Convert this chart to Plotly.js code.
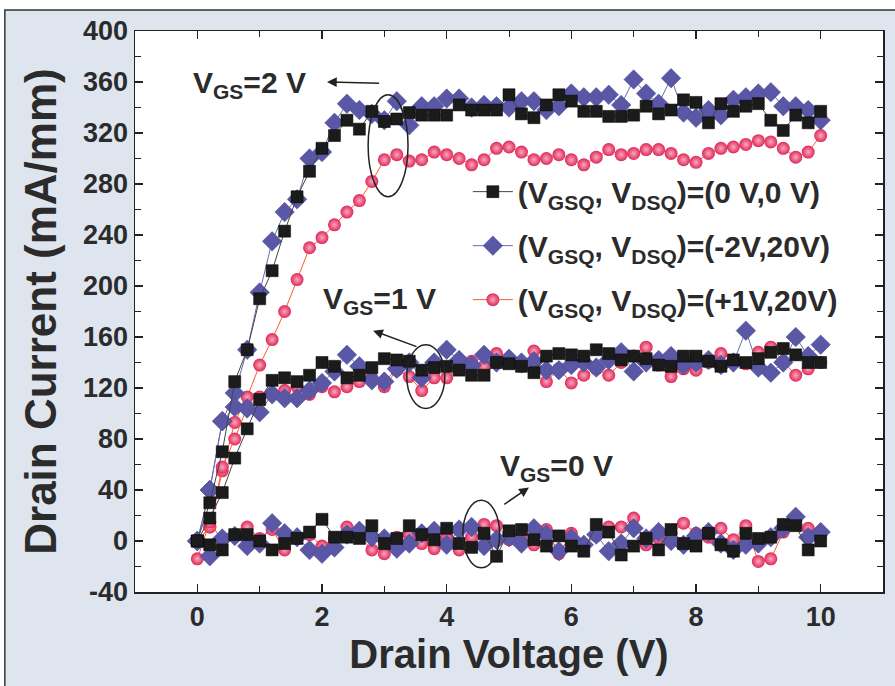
<!DOCTYPE html>
<html><head><meta charset="utf-8">
<script src="https://cdn.plot.ly/plotly-3.0.1.min.js"></script>
<style>html,body{margin:0;padding:0;background:#fff}#chart{width:895px;height:686px}</style>
</head><body><div id="chart"></div>
<script>
// Drain voltage (V)
const drainV = [0,0.2,0.4,0.6,0.8,1,1.2,1.4,1.6,1.8,2,2.2,2.4,2.6,2.8,3,3.2,3.4,3.6,3.8,4,4.2,4.4,4.6,4.8,5,5.2,5.4,5.6,5.8,6,6.2,6.4,6.6,6.8,7,7.2,7.4,7.6,7.8,8,8.2,8.4,8.6,8.8,9,9.2,9.4,9.6,9.8,10];

// (VGSQ,VDSQ)=(0 V,0 V)  black squares
const black_vgs2 = [0,30,70,125,150,190,212,243,270,290,308,318,330,323,337,329,331,336,334,334,334,342,338,338,338,350,335,332,342,350,345,337,337,333,333,334,341,335,338,346,344,328,343,337,341,343,330,322,334,328,337];
const black_vgs1 = [0,18,38,65,88,111,126,128,125,130,140,137,128,130,136,143,142,141,134,136,137,134,130,130,140,139,137,132,145,147,146,145,150,147,142,145,143,138,137,145,145,141,137,142,140,143,148,151,146,140,140];
const black_vgs0 = [0,-3,-7,5,5,0,-7,-2,2,7,17,3,3,2,12,-2,2,12,5,1,10,-2,-5,6,-12,8,9,1,-4,4,-4,-8,13,7,-11,-4,2,-7,9,-2,-4,6,-3,-8,6,2,3,13,12,-7,0];

// (VGSQ,VDSQ)=(-2V,20V)  blue diamonds
const blue_vgs2 = [0,40,94,116,150,195,235,258,268,300,305,328,343,338,335,330,345,326,341,341,347,347,340,342,341,340,345,345,338,341,351,348,348,350,342,362,351,343,363,336,332,338,334,346,348,351,352,341,341,338,330];
const blue_vgs1 = [0,40,94,105,104,101,115,112,112,118,124,133,146,137,126,125,135,140,128,140,150,142,138,146,140,143,140,141,134,134,138,140,136,142,148,133,140,142,145,138,140,142,138,140,165,136,132,140,160,145,154];
const blue_vgs0 = [0,-12,2,4,-4,-2,14,6,3,-7,-10,-5,5,8,3,2,-6,-2,6,8,-3,9,11,-4,1,3,-2,10,5,-8,2,-3,5,-8,-2,10,2,7,0,-3,4,7,-2,-7,-3,-2,3,10,19,3,7];

// (VGSQ,VDSQ)=(+1V,20V)  red circles
const red_vgs2 = [0,11,55,93,113,138,158,180,205,230,238,248,258,267,282,299,303,298,299,305,303,300,295,299,308,309,305,299,300,303,299,295,301,307,303,304,307,307,304,299,297,304,308,309,311,314,313,308,301,305,318];
const red_vgs1 = [0,11,58,80,105,113,116,118,121,115,121,117,121,125,128,121,134,129,118,128,128,135,141,137,147,140,137,149,125,135,124,130,135,130,140,145,152,138,129,135,134,140,147,142,139,148,152,141,130,135,140];
const red_vgs0 = [-14,15,0,4,11,2,9,-7,3,5,-4,2,11,4,-7,-10,3,5,-2,-6,2,-7,3,13,12,1,1,-3,9,-10,6,-3,4,11,11,18,-3,2,6,14,6,3,10,1,12,-16,-14,7,16,10,5];

const seriesNames = [
  '(V<sub>GSQ</sub>, V<sub>DSQ</sub>)=(0 V,0 V)',
  '(V<sub>GSQ</sub>, V<sub>DSQ</sub>)=(-2V,20V)',
  '(V<sub>GSQ</sub>, V<sub>DSQ</sub>)=(+1V,20V)'
];
const xTickVals = [0,2,4,6,8,10];
const xTickText = ['0','2','4','6','8','10'];
const yTickVals = [-40,0,40,80,120,160,200,240,280,320,360,400];
const yTickText = ['-40','0','40','80','120','160','200','240','280','320','360','400'];

const FONT = 'Liberation Sans, Arial, sans-serif';
const TXT = '#2b2b2b';

const styles = [
  {marker:{symbol:'square', size:12, color:'#1b1b1b', line:{width:0.5,color:'#000'}}, line:{color:'#444', width:1}},
  {marker:{symbol:'diamond', size:15, color:'#5a58a6', line:{width:0.5,color:'#4a4890'}}, line:{color:'#6c6ab0', width:1}},
  {marker:{symbol:'circle', size:13, color:'#e0285a', gradient:{type:'radial', color:'#f8a9bd'}, line:{width:0}}, line:{color:'#ff5a2a', width:1}}
];
const groups = [
  [black_vgs2, black_vgs1, black_vgs0],
  [blue_vgs2, blue_vgs1, blue_vgs0],
  [red_vgs2, red_vgs1, red_vgs0]
];
const drawOrder = [2,1,0];
const traces = [];
drawOrder.forEach(g => {
  groups[g].forEach((ys, k) => {
    traces.push({
      x: drainV, y: ys, type:'scatter', mode:'lines+markers',
      name: seriesNames[g], legendgroup:'g'+g, showlegend: k===0, legendrank: g+1,
      marker: styles[g].marker, line: styles[g].line, cliponaxis:false
    });
  });
});

const axisCommon = {
  showline:true, linecolor:'#222', linewidth:1.5, mirror:'ticks',
  ticks:'inside', ticklen:8, tickwidth:1.2, tickcolor:'#222',
  zeroline:false, showgrid:false,
  tickfont:{family:FONT, size:27, color:TXT, weight:'bold'}
};

const layout = {
  width:895, height:686,
  margin:{l:135, r:12, t:31, b:94},
  paper_bgcolor:'#ffffff', plot_bgcolor:'rgba(0,0,0,0)',
  showlegend:true,
  legend:{x:0.445, y:0.76, xanchor:'left', yanchor:'top', bgcolor:'rgba(0,0,0,0)',
          font:{family:FONT, size:30, color:TXT, weight:'bold'}, traceorder:'grouped',
          itemwidth:40, tracegroupgap:12},
  xaxis: Object.assign({}, axisCommon, {
    range:[-1,11], tickvals:xTickVals, ticktext:xTickText,
    minor:{dtick:1, tick0:1, ticks:'inside', ticklen:6, tickcolor:'#222', tickwidth:1},
    title:{text:'Drain Voltage (V)', font:{family:FONT, size:40, color:TXT, weight:'bold'}, standoff:6}
  }),
  yaxis: Object.assign({}, axisCommon, {
    range:[-40,400], tickvals:yTickVals, ticktext:yTickText,
    minor:{dtick:20, tick0:0, ticks:'inside', ticklen:6, tickcolor:'#222', tickwidth:1},
    title:{text:'Drain Current (mA/mm)', font:{family:FONT, size:44, color:TXT, weight:'bold'}, standoff:12}
  }),
  shapes:[
    {type:'rect', xref:'paper', yref:'paper', x0:-0.174, x1:1.1, y0:-0.2, y1:1.0374, layer:'below',
     fillcolor:'#dfe5ef', line:{color:'#333', width:1.5}},
    {type:'rect', xref:'paper', yref:'paper', x0:0, x1:1, y0:0, y1:1, layer:'below',
     fillcolor:'#ffffff', line:{width:0}},
    {type:'circle', xref:'x', yref:'y', x0:2.74, x1:3.38, y0:270, y1:350, line:{color:'#222', width:1.5}},
    {type:'circle', xref:'x', yref:'y', x0:3.36, x1:3.97, y0:104, y1:154, line:{color:'#222', width:1.5}},
    {type:'circle', xref:'x', yref:'y', x0:4.26, x1:4.85, y0:-21, y1:32, line:{color:'#222', width:1.5}}
  ],
  annotations:[
    {x:0.84, y:358, xref:'x', yref:'y', text:'V<sub>GS</sub>=2 V', showarrow:false,
     font:{family:FONT, size:30, color:TXT, weight:'bold'}},
    {x:2.93, y:189, xref:'x', yref:'y', text:'V<sub>GS</sub>=1 V', showarrow:false,
     font:{family:FONT, size:30, color:TXT, weight:'bold'}},
    {x:5.76, y:58, xref:'x', yref:'y', text:'V<sub>GS</sub>=0 V', showarrow:false,
     font:{family:FONT, size:30, color:TXT, weight:'bold'}},
    {x:2.08, y:360, ax:2.94, ay:359, xref:'x', yref:'y', axref:'x', ayref:'y', text:'', showarrow:true,
     arrowhead:2, arrowsize:1.3, arrowwidth:1.5, arrowcolor:'#222'},
    {x:2.82, y:165, ax:3.54, ay:152, xref:'x', yref:'y', axref:'x', ayref:'y', text:'', showarrow:true,
     arrowhead:2, arrowsize:1.3, arrowwidth:1.5, arrowcolor:'#222'},
    {x:5.32, y:42, ax:4.9, ay:28, xref:'x', yref:'y', axref:'x', ayref:'y', text:'', showarrow:true,
     arrowhead:2, arrowsize:1.3, arrowwidth:1.5, arrowcolor:'#222'}
  ]
};

Plotly.newPlot('chart', traces, layout, {displayModeBar:false, staticPlot:true});
</script></body></html>
